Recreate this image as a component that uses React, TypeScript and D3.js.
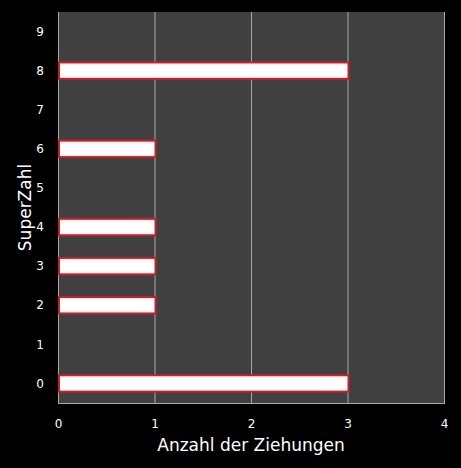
import React, { useEffect, useRef } from 'react';
import * as d3 from 'd3';

const categories = ['0', '1', '2', '3', '4', '5', '6', '7', '8', '9'];
const counts = [3, 0, 1, 1, 1, 0, 1, 0, 3, 0];
const xTicks = [0, 1, 2, 3, 4];

const W = 461;
const H = 468;

const App: React.FC = () => {
  const svgRef = useRef<SVGSVGElement>(null);

  useEffect(() => {
    const svg = d3.select(svgRef.current);
    svg.selectAll('*').remove();

    const left = 58, right = 444, top = 12, bottom = 403;
    const font = "'DejaVu Sans', Verdana, sans-serif";

    const x = d3.scaleLinear().domain([0, 4]).range([left, right]);
    const y = d3.scaleBand<string>()
      .domain([...categories].reverse())
      .range([top, bottom])
      .paddingInner(0.58)
      .paddingOuter(0.29);

    svg.append('rect').attr('width', W).attr('height', H).attr('fill', '#000');

    svg.append('rect')
      .attr('x', left).attr('y', top)
      .attr('width', right - left).attr('height', bottom - top)
      .attr('fill', '#404040');

    const defs = svg.append('defs');
    const grad = defs.append('linearGradient')
      .attr('id', 'barGrad').attr('x1', 0).attr('y1', 0).attr('x2', 0).attr('y2', 1);
    grad.append('stop').attr('offset', '0%').attr('stop-color', '#f4e4e4');
    grad.append('stop').attr('offset', '25%').attr('stop-color', '#ffffff');
    grad.append('stop').attr('offset', '80%').attr('stop-color', '#ffffff');
    grad.append('stop').attr('offset', '100%').attr('stop-color', '#f0dede');

    // vertical gridlines
    svg.append('g')
      .selectAll('line')
      .data(xTicks)
      .join('line')
      .attr('x1', (d) => x(d) + 0.5).attr('x2', (d) => x(d) + 0.5)
      .attr('y1', top).attr('y2', bottom)
      .attr('stroke', '#a8a8a8').attr('stroke-width', 1);

    // bottom axis line
    svg.append('line')
      .attr('x1', left).attr('x2', right + 1)
      .attr('y1', bottom + 0.5).attr('y2', bottom + 0.5)
      .attr('stroke', '#a8a8a8');

    // bars
    const data = categories.map((c, i) => ({ c, v: counts[i] }));
    svg.append('g')
      .selectAll('rect')
      .data(data.filter((d) => d.v > 0))
      .join('rect')
      .attr('x', x(0) + 1)
      .attr('y', (d) => y(d.c)!)
      .attr('width', (d) => x(d.v) - x(0))
      .attr('height', y.bandwidth())
      .attr('fill', 'url(#barGrad)')
      .attr('stroke', '#c8202a')
      .attr('stroke-width', 2);

    // y tick labels
    svg.append('g')
      .selectAll('text')
      .data(categories)
      .join('text')
      .attr('x', 40)
      .attr('y', (d) => y(d)! + y.bandwidth() / 2)
      .attr('dy', '0.35em')
      .attr('text-anchor', 'middle')
      .attr('fill', '#fff')
      .attr('font-family', font)
      .attr('font-size', 12)
      .text((d) => d);

    // x tick labels
    svg.append('g')
      .selectAll('text')
      .data(xTicks)
      .join('text')
      .attr('x', (d) => x(d) + 0.5)
      .attr('y', 428)
      .attr('text-anchor', 'middle')
      .attr('fill', '#fff')
      .attr('font-family', font)
      .attr('font-size', 12)
      .text((d) => String(d));

    svg.append('text')
      .attr('x', x(2))
      .attr('y', 451)
      .attr('text-anchor', 'middle')
      .attr('fill', '#fff')
      .attr('font-family', font)
      .attr('font-size', 17)
      .text('Anzahl der Ziehungen');

    svg.append('text')
      .attr('transform', `translate(31, ${(top + bottom) / 2}) rotate(-90)`)
      .attr('text-anchor', 'middle')
      .attr('fill', '#fff')
      .attr('font-family', font)
      .attr('font-size', 17)
      .text('SuperZahl');

    return () => {
      svg.selectAll('*').remove();
    };
  }, []);

  return (
    <svg
      ref={svgRef}
      width={W}
      height={H}
      style={{ position: 'absolute', left: 0, top: 0, display: 'block' }}
    />
  );
};

export default App;
